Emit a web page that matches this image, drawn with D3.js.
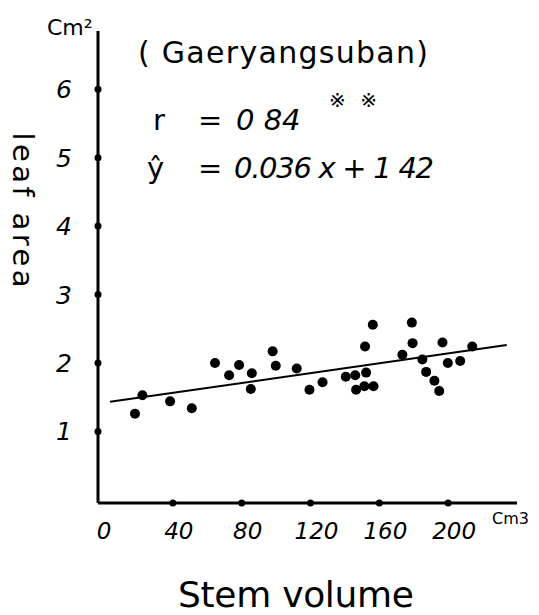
<!DOCTYPE html>
<html>
<head>
<meta charset="utf-8">
<script src="https://cdn.jsdelivr.net/npm/d3@7"></script>
<style>
  body { margin: 0; background: #fff; }
  text { font-family: "DejaVu Sans", sans-serif; fill: #000; }
</style>
</head>
<body>
<div id="chart"></div>
<script>
// stem volume (cm3) vs leaf area (cm2)
var stemVolume = [18, 22.3, 38.4, 51, 64.5, 72.7, 78.5, 85.9, 85.3, 98, 99.8, 112, 119.4, 127,
    140.5, 146, 146.5, 152.3, 151.7, 151.3, 156.6, 156.2, 173.4, 178.9, 179.3, 185, 187.2,
    192, 194.8, 196.7, 199.8, 207, 214];
var leafArea = [1.26, 1.53, 1.44, 1.34, 2.0, 1.82, 1.97, 1.85, 1.62, 2.17, 1.96, 1.92, 1.61, 1.72,
    1.80, 1.82, 1.61, 1.86, 2.24, 1.66, 1.66, 2.56, 2.12, 2.59, 2.29, 2.05, 1.87,
    1.74, 1.59, 2.30, 2.0, 2.03, 2.24];
var xTicks = [0, 40, 80, 120, 160, 200];
var xTickLabels = ['0', '40', '80', '120', '160', '200'];
var yTicks = [1, 2, 3, 4, 5, 6];
var fitIntercept = 1.42, fitSlope = 0.0036;   // printed as 0.036x + 1 42
var fitRange = [3.5, 234];

var state = {
    width: 539,
    height: 615,
    ink: '#000',
    xMin: -3.5, xMax: 240,
    yMin: -0.045, yMax: 6.85
};

var svg = d3.select('#chart')
    .append('svg')
        .attr('width', state.width)
        .attr('height', state.height);

var x = d3.scaleLinear().domain([state.xMin, state.xMax]).range([98, 517]);
var y = d3.scaleLinear().domain([state.yMin, state.yMax]).range([503, 31]);

//axes lines
svg.append('line')
    .attr('x1', x(state.xMin)).attr('x2', x(state.xMin))
    .attr('y1', y(state.yMax)).attr('y2', y(state.yMin))
    .style('stroke', state.ink).style('stroke-width', 3);
svg.append('line')
    .attr('x1', x(state.xMin)).attr('x2', x(state.xMax))
    .attr('y1', y(state.yMin)).attr('y2', y(state.yMin))
    .style('stroke', state.ink).style('stroke-width', 3);

//tick dots
svg.selectAll('.ytick')
    .data(yTicks)
    .enter()
    .append('circle')
        .attr('class', 'ytick')
        .attr('cx', x(state.xMin))
        .attr('cy', function(d){ return y(d); })
        .attr('r', 3.5)
        .attr('fill', state.ink);
svg.selectAll('.xtick')
    .data(xTicks.slice(1))
    .enter()
    .append('circle')
        .attr('class', 'xtick')
        .attr('cx', function(d){ return x(d); })
        .attr('cy', y(state.yMin))
        .attr('r', 3.5)
        .attr('fill', state.ink);

//tick labels
svg.selectAll('.ylab')
    .data(yTicks)
    .enter()
    .append('text')
        .attr('class', 'ylab')
        .attr('x', 64)
        .attr('y', function(d){ return y(d) + 9; })
        .attr('text-anchor', 'middle')
        .style('font-size', '25px')
        .style('font-style', 'italic')
        .text(function(d){ return d; });
svg.selectAll('.xlab')
    .data(xTicks)
    .enter()
    .append('text')
        .attr('class', 'xlab')
        .attr('x', function(d, i){ return i == 0 ? x(d) : x(d) + 6; })
        .attr('y', 539)
        .attr('text-anchor', 'middle')
        .style('font-size', '23px')
        .style('font-style', 'italic')
        .text(function(d, i){ return xTickLabels[i]; });

//units
svg.append('text')
    .attr('x', 47).attr('y', 35)
    .style('font-size', '22px')
    .text('Cm²');
svg.append('text')
    .attr('x', 492).attr('y', 524)
    .style('font-size', '16px')
    .text('Cm3');

//axis titles
svg.append('text')
    .attr('transform', 'translate(13,210) rotate(90)')
    .attr('text-anchor', 'middle')
    .attr('textLength', 155)
    .style('font-size', '29px')
    .text('leaf area');
svg.append('text')
    .attr('x', 178).attr('y', 607)
    .attr('textLength', 236)
    .style('font-size', '36px')
    .text('Stem  volume');

//annotation
svg.append('text')
    .attr('x', 138).attr('y', 63)
    .attr('textLength', 290)
    .style('font-size', '30px')
    .text('( Gaeryangsuban)');
var rLine = svg.append('text')
    .attr('x', 153).attr('y', 130)
    .style('font-size', '29px');
rLine.append('tspan').text('r');
rLine.append('tspan').attr('x', 198).text('=');
rLine.append('tspan').attr('x', 236).style('font-style', 'italic').text('0 84');
svg.append('text')
    .attr('x', 329).attr('y', 107)
    .attr('textLength', 48)
    .style('font-size', '20px')
    .text('※※');
var fitLine = svg.append('text')
    .attr('x', 147).attr('y', 178)
    .style('font-size', '29px');
fitLine.append('tspan').text('ŷ');
fitLine.append('tspan').attr('x', 198).text('=');
fitLine.append('tspan').attr('x', 234).attr('textLength', 200)
    .style('font-style', 'italic').text('0.036 x + 1 42');

//regression line
svg.append('line')
    .attr('x1', x(fitRange[0])).attr('y1', y(fitIntercept + fitSlope * fitRange[0]))
    .attr('x2', x(fitRange[1])).attr('y2', y(fitIntercept + fitSlope * fitRange[1]))
    .style('stroke', state.ink)
    .style('stroke-width', 2);

//points
svg.selectAll('.pt')
    .data(d3.zip(stemVolume, leafArea))
    .enter()
    .append('circle')
        .attr('class', 'pt')
        .attr('cx', function(d){ return x(d[0]); })
        .attr('cy', function(d){ return y(d[1]); })
        .attr('r', 5)
        .attr('fill', state.ink);
</script>
</body>
</html>
